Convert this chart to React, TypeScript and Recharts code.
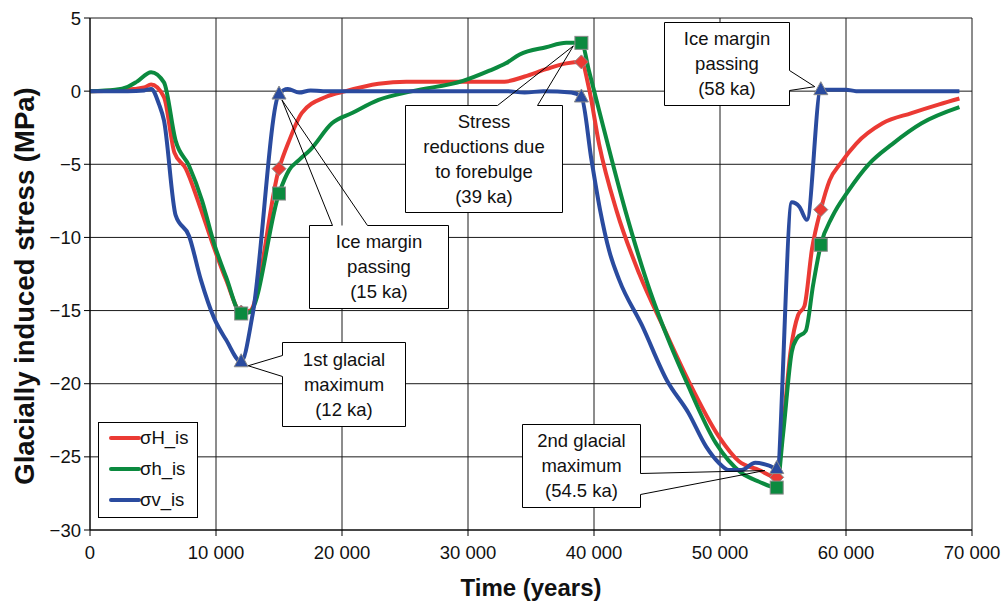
import React from 'react';
import { LineChart, Line, XAxis, YAxis, CartesianGrid, ReferenceDot, Legend, Label } from 'recharts';

// ---------- data ----------
const sigmaHTimes = [0, 2000, 3500, 4300, 4850, 5870, 6700, 7600, 8650, 9840, 10800, 12000, 12700, 15000, 15800, 16800, 18700, 20300, 22900, 25100, 29000, 32900, 34500, 36200, 37800, 39000, 39600, 40400, 41800, 43600, 45600, 47500, 49900, 51500, 53100, 54500, 55000, 55600, 56200, 56700, 57300, 58000, 58700, 59600, 60800, 62900, 65200, 67400, 69000];
const sigmaHValues = [0, 0.05, 0.15, 0.25, 0.45, -0.4, -4.2, -5.3, -7.7, -10.7, -12.9, -15.1, -15.0, -5.3, -3.4, -1.5, -0.4, 0.0, 0.5, 0.65, 0.65, 0.65, 1.0, 1.5, 1.9, 2.0, 0.2, -3.6, -8.2, -12.5, -16.3, -19.8, -23.6, -25.3, -25.9, -26.4, -23.0, -17.8, -15.3, -14.7, -10.8, -8.1, -6.1, -4.9, -3.6, -2.2, -1.5, -0.9, -0.5];

const sigmaHhTimes = [0, 2000, 3000, 3730, 4850, 5870, 6800, 7860, 8900, 9840, 10800, 12000, 12700, 15000, 15800, 16600, 17500, 19200, 20800, 22900, 25600, 29600, 31700, 33000, 34100, 36200, 37800, 39000, 39600, 40400, 42500, 44500, 46000, 47300, 49700, 51700, 53100, 54500, 55000, 55700, 56100, 56800, 57400, 58000, 58900, 60200, 61800, 63700, 66000, 69000];
const sigmaHhValues = [0, 0.1, 0.3, 0.65, 1.3, 0.6, -3.4, -5.1, -7.5, -10.4, -12.7, -15.2, -15.1, -7.0, -5.4, -4.7, -4.0, -2.2, -1.5, -0.6, 0.0, 0.7, 1.4, 1.9, 2.5, 3.0, 3.3, 3.3, 1.4, -1.3, -8.2, -13.8, -17.2, -19.8, -24.1, -26.1, -26.7, -27.1, -23.5, -17.8, -16.9, -16.4, -13.2, -10.5, -8.6, -6.8, -5.0, -3.6, -2.2, -1.1];

const sigmaVTimes = [0, 3000, 4300, 4850, 5480, 5870, 6800, 7860, 8800, 9840, 10800, 12000, 12900, 15000, 15700, 16600, 17500, 18500, 33000, 34500, 36000, 38200, 39000, 39800, 40500, 41200, 42000, 43800, 45800, 47500, 48900, 49900, 50700, 51700, 52800, 53900, 54500, 55700, 56300, 56900, 58000, 60000, 60800, 69000];
const sigmaVValues = [0, 0, 0.05, 0.15, -0.9, -2.0, -8.5, -9.9, -12.9, -15.5, -17.0, -18.5, -15.3, -0.2, 0.15, -0.1, 0.05, 0, 0, -0.1, 0, -0.1, -0.4, -4.7, -8.2, -10.9, -12.9, -16.0, -19.8, -22.0, -24.3, -25.4, -25.9, -25.9, -25.4, -25.6, -25.8, -7.6, -7.9, -8.8, 0.1, 0.1, 0.0, 0.0];

const markerTimes = [12000, 15000, 39000, 54500, 58000];
const seriesNames = ['σH_is', 'σh_is', 'σv_is'];
const xTicks = [0, 10000, 20000, 30000, 40000, 50000, 60000, 70000];
const yTicks = [5, 0, -5, -10, -15, -20, -25, -30];

const calloutTexts = [
  ['1st glacial', 'maximum', '(12 ka)'],
  ['Ice margin', 'passing', '(15 ka)'],
  ['Stress', 'reductions due', 'to forebulge', '(39 ka)'],
  ['Ice margin', 'passing', '(58 ka)'],
  ['2nd glacial', 'maximum', '(54.5 ka)'],
];
const calloutAnchorX = [12000, 15000, 39000, 58000, 54500];
const calloutAnchorY = [-18.5, -0.2, 3.3, 0.1, -25.8];

// ---------- layout / style ----------
const FONT = '"Liberation Sans", Arial, Helvetica, sans-serif';
const RED = '#EB3A34';
const GREEN = '#0B8A3F';
const BLUE = '#2A4B9F';
const MARK_STROKE = '#8a8a8a';

type Side = 'left' | 'right' | 'top';
const calloutLayout: { dx: number; dy: number; w: number; h: number; side: Side; b1: number; b2: number; tx: number; ty: number }[] = [
  { dx: 41, dy: -20, w: 123, h: 84, side: 'left', b1: 13, b2: 34, tx: 7, ty: 4 },
  { dx: 30, dy: 131, w: 139, h: 83, side: 'top', b1: 23, b2: 58, tx: 3, ty: 6 },
  { dx: -176, dy: 62, w: 157, h: 107, side: 'top', b1: 92, b2: 132, tx: -8, ty: 3 },
  { dx: -157, dy: -68, w: 125, h: 83, side: 'right', b1: 48, b2: 68, tx: -6, ty: -3 },
  { dx: -255, dy: -45, w: 118, h: 83, side: 'right', b1: 49, b2: 70, tx: -12, ty: 2 },
];

const buildSeries = (times: number[], values: number[]) => times.map((t, i) => ({ t, v: values[i] }));
const dataH = buildSeries(sigmaHTimes, sigmaHValues);
const dataHh = buildSeries(sigmaHhTimes, sigmaHhValues);
const dataV = buildSeries(sigmaVTimes, sigmaVValues);

const fmtX = (v: number) => String(v).replace(/\B(?=(\d{3})+(?!\d))/g, ' ');
const fmtY = (v: number) => (v < 0 ? '\u2212' + Math.abs(v) : String(v));

const makeDot = (kind: 'diamond' | 'square' | 'triangle', color: string) => (props: any) => {
  const { cx, cy, payload, index } = props;
  if (!payload || markerTimes.indexOf(payload.t) < 0 || cx == null || cy == null) return <g key={`e-${index}`} />;
  if (kind === 'diamond') {
    return <polygon key={`m-${index}`} points={`${cx},${cy - 7} ${cx + 7},${cy} ${cx},${cy + 7} ${cx - 7},${cy}`} fill={color} stroke={MARK_STROKE} strokeWidth={1} />;
  }
  if (kind === 'square') {
    return <rect key={`m-${index}`} x={cx - 6.5} y={cy - 6.5} width={13} height={13} fill={color} stroke={MARK_STROKE} strokeWidth={1} />;
  }
  return <polygon key={`m-${index}`} points={`${cx},${cy - 8} ${cx + 7},${cy + 5} ${cx - 7},${cy + 5}`} fill={color} stroke={MARK_STROKE} strokeWidth={1} />;
};

const Callout = (props: any) => {
  const { cx, cy, idx } = props;
  if (cx == null || cy == null) return <g />;
  const L = calloutLayout[idx];
  const lines = calloutTexts[idx];
  const x = Math.round(cx + L.dx) + 0.5;
  const y = Math.round(cy + L.dy) + 0.5;
  const { w, h, b1, b2 } = L;
  let border = '';
  let wedge = '';
  const tipX = cx + L.tx;
  const tipY = cy + L.ty;
  if (L.side === 'top') {
    border = `M${x + b2},${y} L${x + w},${y} L${x + w},${y + h} L${x},${y + h} L${x},${y} L${x + b1},${y}`;
    wedge = `M${x + b1},${y} L${tipX},${tipY} L${x + b2},${y}`;
  } else if (L.side === 'right') {
    border = `M${x + w},${y + b2} L${x + w},${y + h} L${x},${y + h} L${x},${y} L${x + w},${y} L${x + w},${y + b1}`;
    wedge = `M${x + w},${y + b1} L${tipX},${tipY} L${x + w},${y + b2}`;
  } else {
    border = `M${x},${y + b1} L${x},${y} L${x + w},${y} L${x + w},${y + h} L${x},${y + h} L${x},${y + b2}`;
    wedge = `M${x},${y + b1} L${tipX},${tipY} L${x},${y + b2}`;
  }
  const lh = 25;
  const n = lines.length;
  return (
    <g>
      <rect x={x} y={y} width={w} height={h} fill="#fff" stroke="none" />
      <path d={border} fill="none" stroke="#000" strokeWidth={1} />
      <path d={wedge} fill="none" stroke="#000" strokeWidth={1} />
      {lines.map((s, i) => (
        <text key={i} x={x + w / 2} y={y + h / 2 + (i - (n - 1) / 2) * lh} dy="0.35em" textAnchor="middle" fontSize={18.5} fontFamily={FONT} fill="#111">
          {s}
        </text>
      ))}
    </g>
  );
};

const renderLegend = (props: any) => {
  const payload = props.payload || [];
  return (
    <svg width={100} height={96} style={{ display: 'block' }}>
      <rect x={0.5} y={0.5} width={99} height={95} fill="#fff" stroke="#000" />
      {payload.map((e: any, i: number) => (
        <g key={i}>
          <line x1={13} x2={41} y1={16 + i * 31} y2={16 + i * 31} stroke={e.color} strokeWidth={4} strokeLinecap="round" />
          <text x={42} y={16 + i * 31} dy="0.35em" fontSize={18.5} fontFamily={FONT} fill="#111">
            {e.value}
          </text>
        </g>
      ))}
    </svg>
  );
};

export default function App() {
  return (
    <div style={{ position: 'absolute', left: 0, top: 0, width: 1002, height: 602, background: '#fff' }}>
      <LineChart width={1002} height={602} margin={{ top: 18, right: 30, bottom: 0, left: 0 }}>
        <CartesianGrid stroke="#1a1a1a" strokeWidth={1} horizontalValues={yTicks} verticalValues={xTicks} />
        <XAxis
          dataKey="t"
          type="number"
          domain={[0, 70000]}
          ticks={xTicks}
          interval={0}
          tickFormatter={fmtX}
          height={72}
          tickSize={6}
          tickMargin={10}
          stroke="#000"
          tick={{ fontSize: 18.5, fontFamily: FONT, fill: '#111' }}
          allowDataOverflow
        >
          <Label value="Time (years)" position="insideBottom" offset={6} style={{ fontSize: 24, fontWeight: 'bold', fontFamily: FONT, fill: '#111' }} />
        </XAxis>
        <YAxis
          type="number"
          domain={[-30, 5]}
          ticks={yTicks}
          interval={0}
          tickFormatter={fmtY}
          width={90}
          tickSize={6}
          tickMargin={3}
          stroke="#000"
          tick={{ fontSize: 18.5, fontFamily: FONT, fill: '#111' }}
          allowDataOverflow
        >
          <Label value="Glacially induced stress (MPa)" angle={-90} position="center" dx={-21} dy={12} style={{ fontSize: 27.5, fontWeight: 'bold', fontFamily: FONT, fill: '#111', textAnchor: 'middle' }} />
        </YAxis>
        <Legend
          layout="vertical"
          align="center"
          verticalAlign="middle"
          content={renderLegend}
          wrapperStyle={{ left: 98, top: 422, width: 100, height: 96 }}
        />
        <Line data={dataH} dataKey="v" name={seriesNames[0]} type="monotone" stroke={RED} strokeWidth={4} dot={makeDot('diamond', RED)} activeDot={false} isAnimationActive={false} />
        <Line data={dataHh} dataKey="v" name={seriesNames[1]} type="monotone" stroke={GREEN} strokeWidth={4} dot={makeDot('square', GREEN)} activeDot={false} isAnimationActive={false} />
        <Line data={dataV} dataKey="v" name={seriesNames[2]} type="monotone" stroke={BLUE} strokeWidth={4} dot={makeDot('triangle', BLUE)} activeDot={false} isAnimationActive={false} />
        {calloutTexts.map((_, i) => (
          <ReferenceDot key={i} x={calloutAnchorX[i]} y={calloutAnchorY[i]} r={0} ifOverflow="visible" shape={(p: any) => <Callout {...p} idx={i} />} />
        ))}
      </LineChart>
    </div>
  );
}
